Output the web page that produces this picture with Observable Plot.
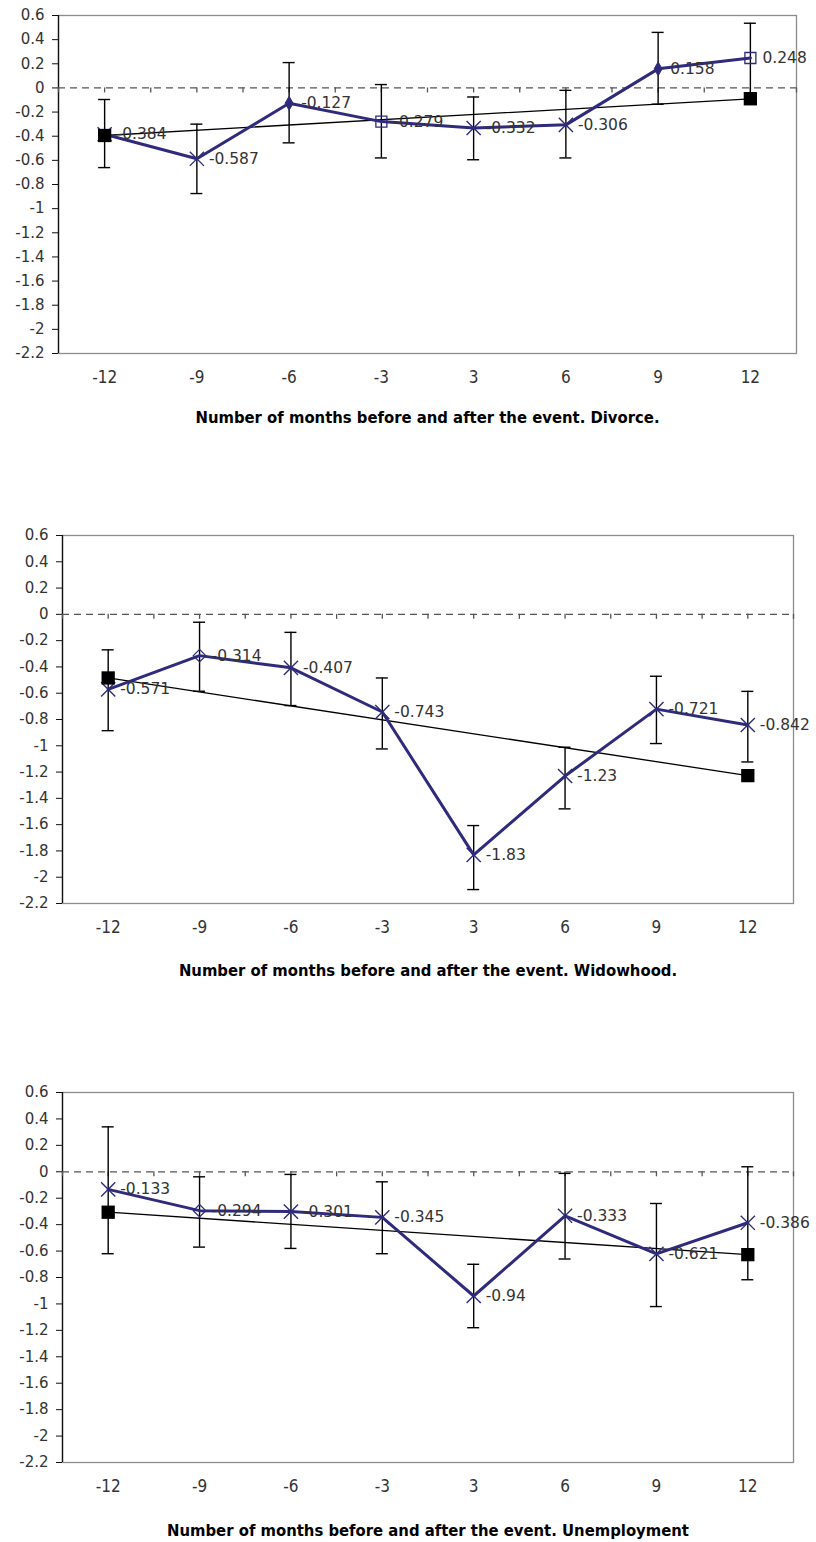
<!DOCTYPE html>
<html>
<head>
<meta charset="utf-8">
<script src="https://cdn.jsdelivr.net/npm/d3@7"></script>
<script src="https://cdn.jsdelivr.net/npm/@observablehq/plot@0.6"></script>
<style>
  html, body { margin: 0; padding: 0; background: #fff; }
  #chart svg { display: block; }
</style>
</head>
<body>
<div id="chart"></div>
<script>
// ---------- data ----------
const months = ["-12", "-9", "-6", "-3", "3", "6", "9", "12"];
const yTickValues = [0.6, 0.4, 0.2, 0, -0.2, -0.4, -0.6, -0.8, -1, -1.2, -1.4, -1.6, -1.8, -2, -2.2];
const yTickLabels = ["0.6", "0.4", "0.2", "0", "-0.2", "-0.4", "-0.6", "-0.8", "-1", "-1.2", "-1.4", "-1.6", "-1.8", "-2", "-2.2"];

const divorceTitle = "Number of months before and after the event. Divorce.";
const divorceValues = [-0.384, -0.587, -0.127, -0.279, -0.332, -0.306, 0.158, 0.248];
const divorceLabels = ["-0.384", "-0.587", "-0.127", "-0.279", "-0.332", "-0.306", "0.158", "0.248"];
const divorceUpper = [-0.096, -0.30, 0.21, 0.028, -0.075, -0.02, 0.46, 0.536];
const divorceLower = [-0.66, -0.875, -0.455, -0.58, -0.595, -0.58, -0.135, -0.04];
const divorceMarkers = ["times", "times", "diamondFilled", "squareOpen", "times", "times", "diamondFilled", "squareOpen"];
const divorceTrend = [-0.394, -0.09];

const widowTitle = "Number of months before and after the event. Widowhood.";
const widowValues = [-0.571, -0.314, -0.407, -0.743, -1.83, -1.23, -0.721, -0.842];
const widowLabels = ["-0.571", "-0.314", "-0.407", "-0.743", "-1.83", "-1.23", "-0.721", "-0.842"];
const widowUpper = [-0.27, -0.06, -0.137, -0.484, -1.607, -1.011, -0.471, -0.586];
const widowLower = [-0.885, -0.585, -0.694, -1.024, -2.094, -1.48, -0.983, -1.123];
const widowMarkers = ["times", "diamondOpen", "times", "times", "times", "times", "times", "times"];
const widowTrend = [-0.484, -1.227];

const unempTitle = "Number of months before and after the event. Unemployment";
const unempValues = [-0.133, -0.294, -0.301, -0.345, -0.94, -0.333, -0.621, -0.386];
const unempLabels = ["-0.133", "-0.294", "-0.301", "-0.345", "-0.94", "-0.333", "-0.621", "-0.386"];
const unempUpper = [0.34, -0.038, -0.02, -0.076, -0.70, -0.012, -0.24, 0.038];
const unempLower = [-0.62, -0.57, -0.58, -0.62, -1.18, -0.66, -1.02, -0.817];
const unempMarkers = ["times", "diamondOpen", "times", "times", "times", "times", "times", "times"];
const unempTrend = [-0.306, -0.627];

// ---------- styles ----------
const NAVY = "#2f2b7c";
const markerStyles = {
  times: {symbol: "times", r: 6.5, fill: "none", stroke: NAVY, strokeWidth: 1.4},
  diamondFilled: {symbol: "diamond", r: 4.2, fill: NAVY, stroke: NAVY, strokeWidth: 1},
  diamondOpen: {symbol: "diamond2", r: 5.6, fill: "none", stroke: NAVY, strokeWidth: 1.3},
  squareOpen: {symbol: "square", r: 6.2, fill: "none", stroke: NAVY, strokeWidth: 1.3}
};
const labelFont = "DejaVu Sans, sans-serif";
const xTickFont = "Liberation Sans Narrow, DejaVu Sans Condensed, sans-serif";
const titleFont = "DejaVu Sans Condensed, DejaVu Sans, sans-serif";

function panel(cfg) {
  const rows = months.map((m, i) => ({
    i, month: m, value: cfg.values[i], label: cfg.labels[i],
    upper: cfg.upper[i], lower: cfg.lower[i], marker: cfg.markers[i]
  }));
  const trendRows = [
    {i: 0, value: cfg.trend[0]},
    {i: months.length - 1, value: cfg.trend[1]}
  ];
  const gridTicks = d3.range(-0.5, months.length, 0.5);
  const markerMarks = Object.keys(markerStyles).map(k =>
    Plot.dot(rows.filter(d => d.marker === k), {x: "i", y: "value", ...markerStyles[k]})
  );
  return Plot.plot({
    width: 816,
    height: cfg.height,
    marginTop: cfg.marginTop,
    marginBottom: cfg.marginBottom,
    marginLeft: cfg.marginLeft,
    marginRight: cfg.marginRight,
    style: {fontFamily: labelFont, background: "white"},
    x: {type: "linear", domain: [-0.5, months.length - 0.5], axis: null},
    y: {domain: [-2.2, 0.6], axis: null},
    marks: [
      Plot.frame({stroke: "#8c8c8c", strokeWidth: 1.3}),
      Plot.ruleX([-0.5], {stroke: "#111", strokeWidth: 1.3}),
      Plot.axisY(yTickValues, {
        anchor: "left", label: null, tickSize: 6, tickPadding: 8,
        tickFormat: d => yTickLabels[yTickValues.indexOf(d)],
        fontSize: 15, fontFamily: labelFont, fill: "#333", stroke: "#111"
      }),
      Plot.axisX(d3.range(months.length), {
        anchor: "bottom", label: null, tickSize: 0, tickPadding: 17,
        tickFormat: i => months[i],
        fontSize: 17, fontFamily: xTickFont, fill: "#333"
      }),
      Plot.text([cfg.title], {
        frameAnchor: "bottom", dy: cfg.titleDy, text: d => d,
        fontSize: 16.5, fontWeight: "bold", fontFamily: titleFont, fill: "#000"
      }),
      Plot.ruleY([0], {stroke: "#555", strokeWidth: 1.3, strokeDasharray: "7,5"}),
      Plot.ruleX(gridTicks, {x: d => d, y1: 0, y2: 0, insetBottom: -5, stroke: "#555", strokeWidth: 1.3}),
      Plot.line(trendRows, {x: "i", y: "value", stroke: "#000", strokeWidth: 1.3}),
      Plot.ruleX(rows, {x: "i", y1: "lower", y2: "upper", stroke: "#000", strokeWidth: 1.4}),
      Plot.ruleY(rows, {x1: "i", x2: "i", y: "upper", insetLeft: -6, insetRight: -6, stroke: "#000", strokeWidth: 1.4}),
      Plot.ruleY(rows, {x1: "i", x2: "i", y: "lower", insetLeft: -6, insetRight: -6, stroke: "#000", strokeWidth: 1.4}),
      Plot.line(rows, {x: "i", y: "value", stroke: NAVY, strokeWidth: 3}),
      ...markerMarks,
      Plot.dot(trendRows, {x: "i", y: "value", symbol: "square", r: 7.5, fill: "#000"}),
      Plot.text(rows, {
        x: "i", y: "value", text: "label", dx: 12, textAnchor: "start",
        fontSize: 15.5, fontFamily: labelFont, fill: "#333"
      })
    ]
  });
}

const chart = document.getElementById("chart");
chart.append(panel({
  title: divorceTitle, values: divorceValues, labels: divorceLabels, upper: divorceUpper,
  lower: divorceLower, markers: divorceMarkers, trend: divorceTrend,
  height: 500, marginTop: 15, marginBottom: 147, marginLeft: 58, marginRight: 20, titleDy: 69
}));
chart.append(panel({
  title: widowTitle, values: widowValues, labels: widowLabels, upper: widowUpper,
  lower: widowLower, markers: widowMarkers, trend: widowTrend,
  height: 555, marginTop: 35, marginBottom: 152, marginLeft: 62, marginRight: 23, titleDy: 72
}));
chart.append(panel({
  title: unempTitle, values: unempValues, labels: unempLabels, upper: unempUpper,
  lower: unempLower, markers: unempMarkers, trend: unempTrend,
  height: 487, marginTop: 37, marginBottom: 80, marginLeft: 62, marginRight: 23, titleDy: 73
}));
</script>
</body>
</html>
